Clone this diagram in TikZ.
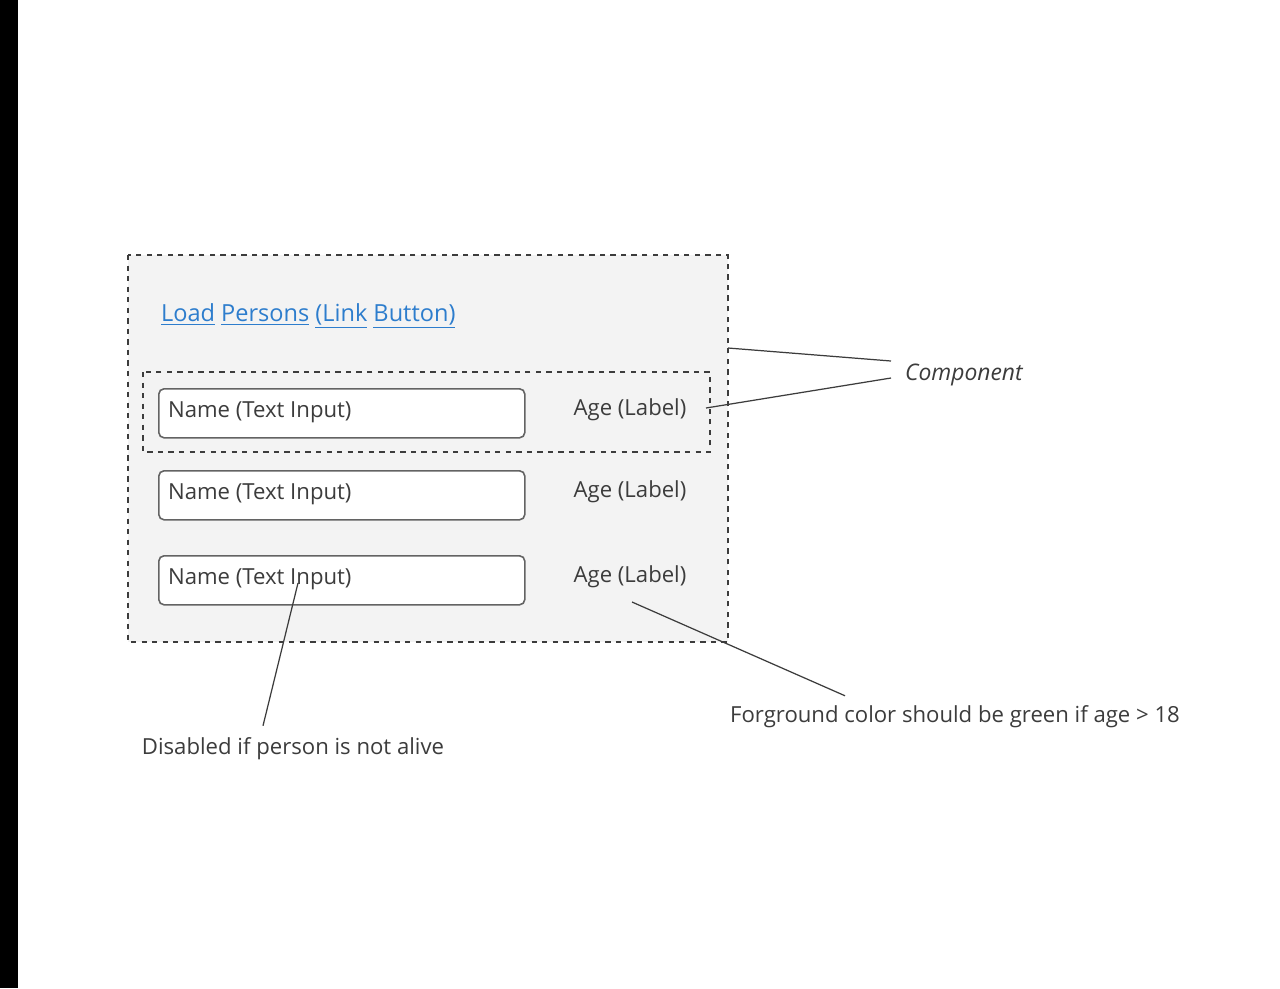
\documentclass[tikz,border=0pt]{standalone}
\usepackage{fontspec}
\setmainfont{Open Sans}
\usepackage{xcolor}
\usepackage{tikz}

\begin{document}
\begin{tikzpicture}[x=0.02cm,y=-0.02cm]
  \definecolor{ink}{RGB}{60,60,60}
  \definecolor{panel}{RGB}{243,243,243}
  \definecolor{linkblue}{RGB}{45,125,205}
  \tikzset{
    dashbox/.style={draw=ink, dashed, line width=0.9pt},
    inputbox/.style={draw=ink!80, fill=white, rounded corners=3pt, line width=0.9pt,
      minimum width=366*0.02cm, minimum height=49*0.02cm, anchor=north west},
    hand/.style={font=\fontsize{12.6}{15}\selectfont, text=ink, inner sep=1pt},
    note/.style={draw=ink, line width=0.7pt}
  }
  \useasboundingbox (0,0) rectangle (1280,988);
  \fill[white] (0,0) rectangle (1280,988);
  \fill[black] (0,0) rectangle (18,988);
  % component frames
  \draw[dashbox, fill=panel] (128,255) rectangle (728,642);
  \draw[dashbox] (143,372) rectangle (710,452);
  \node[hand, text=linkblue, anchor=west, font=\fontsize{13.4}{16}\selectfont] (load) at (159,316)
    {\underline{Load} \underline{Persons} \underline{(Link} \underline{Button)}};
  % rows
  \foreach \i/\y in {1/388, 2/470, 3/555} {
    \node[inputbox] (in\i) at (158,\y) {};
    \node[hand, anchor=west] (name\i) at (166,\y+24) {Name (Text Input)};
    \node[hand] (age\i) at (630,\y+22) {Age (Label)};
  }
  % notes
  \node[hand, anchor=west, font=\itshape\fontsize{13}{15}\selectfont] (comp) at (903,375) {Component};
  \node[hand] (fg) at (955,717) {Forground color should be green if age > 18};
  \node[hand] (dis) at (293,749) {Disabled if person is not alive};
  \coordinate (c1) at (728,348);
  \coordinate (c2) at (706,408);
  \coordinate (a3) at (632,602);
  \coordinate (n3) at (298,583);
  \draw[note] ([xshift=-12*0.02cm]comp.west |- 0,361) -- (c1);
  \draw[note] ([xshift=-12*0.02cm]comp.west |- 0,378) -- (c2);
  \draw[note] (a3) -- ([xshift=-110*0.02cm,yshift=8*0.02cm]fg.north);
  \draw[note] (n3) -- ([xshift=-30*0.02cm,yshift=10*0.02cm]dis.north);
\end{tikzpicture}
\end{document}
